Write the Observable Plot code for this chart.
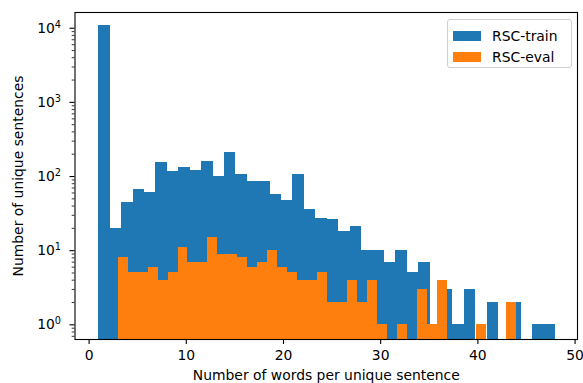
<!DOCTYPE html>
<html>
<head>
<meta charset="utf-8">
<script src="https://cdn.jsdelivr.net/npm/d3@7"></script>
<script src="https://cdn.jsdelivr.net/npm/@observablehq/plot@0.6"></script>
<style>
  html, body { margin: 0; padding: 0; background: #fff; }
  #wrap { position: relative; width: 583px; height: 383px; font-family: "DejaVu Sans", sans-serif; }
  #legendBox {
    position: absolute; left: 447px; top: 19px; width: 123px; height: 47px;
    border: 1px solid #cfcfcf; border-radius: 3px; background: rgba(255,255,255,0.8);
    box-sizing: content-box;
  }
  #legendBox .lg-swatches { margin: 0; padding: 5px 0 0 5px; }
  #legendBox .lg-swatch { display: flex; align-items: center; height: 21px; margin: 0; padding: 0; font-size: 13.9px; color: #000; font-family: "DejaVu Sans", sans-serif; }
  #legendBox .lg-swatch > svg { margin-right: 11px; }
</style>
</head>
<body>
<div id="wrap"></div>
<script>
// ---- data ----
const seriesNames = ["RSC-train", "RSC-eval"];
const seriesColors = ["#1f77b4", "#ff7f0e"];
// histogram counts, 40 bins each
const trainCounts = [10800, 20, 44, 66, 60, 153, 116, 134, 122, 161,
                     101, 213, 105, 87, 87, 57, 47, 105, 36, 27,
                     26, 18, 21, 10, 10, 7, 10, 5, 7, 0,
                     3, 1, 3, 0, 2, 0, 2, 0, 1, 1];
const evalCounts = [8, 5, 5, 6, 4, 5, 11, 7, 7, 15,
                    9, 9, 8, 6, 7, 10, 6, 5, 4, 4,
                    5, 2, 2, 4, 2, 4, 1, 0, 1, 0,
                    3, 1, 4, 0, 0, 0, 1, 0, 0, 2];
// range of words per sentence covered by each histogram
const trainRange = [1, 48];
const evalRange = [3, 44];
const xTicks = [0, 10, 20, 30, 40, 50];
const yMajorTicks = [1, 10, 100, 1000, 10000];
const xLabel = "Number of words per unique sentence";
const yLabel = "Number of unique sentences";

// ---- build tables ----
function binTable(counts, range, name) {
  const w = (range[1] - range[0]) / counts.length;
  return counts.map((c, i) => ({x1: range[0] + i * w, x2: range[0] + (i + 1) * w, count: c, series: name}))
               .filter(d => d.count > 0);
}
const trainBins = binTable(trainCounts, trainRange, seriesNames[0]);
const evalBins = binTable(evalCounts, evalRange, seriesNames[1]);

const yDomain = [0.634, 16300];
const xDomain = [-1.45, 50.25];
const yMinorTicks = [];
for (let k = -1; k <= 4; k++) for (let m = 2; m <= 9; m++) {
  const v = m * Math.pow(10, k);
  if (v >= yDomain[0] && v <= yDomain[1]) yMinorTicks.push(v);
}
const sup = {"0": "⁰", "1": "¹", "2": "²", "3": "³", "4": "⁴"};

const FS = 13.9;
const chart = Plot.plot({
  width: 583, height: 383,
  marginLeft: 74.5, marginRight: 6, marginTop: 12, marginBottom: 44,
  style: {fontFamily: "DejaVu Sans, sans-serif", fontSize: FS + "px", color: "#000", background: "#fff"},
  x: {domain: xDomain},
  y: {type: "log", domain: yDomain},
  marks: [
    Plot.rect(trainBins, {x1: "x1", x2: "x2", y1: yDomain[0], y2: "count", fill: seriesColors[0], shapeRendering: "crispEdges"}),
    Plot.rect(evalBins, {x1: "x1", x2: "x2", y1: yDomain[0], y2: "count", fill: seriesColors[1], shapeRendering: "crispEdges"}),
    Plot.axisX({ticks: xTicks, tickSize: 5, tickPadding: 5.5, tickFormat: d => String(d),
                label: xLabel, labelAnchor: "center", labelArrow: "none", labelOffset: 40,
                stroke: "#000", strokeWidth: 1.1}),
    Plot.axisY({ticks: yMajorTicks, tickSize: 5, tickPadding: 9,
                tickFormat: d => "10" + sup[String(Math.round(Math.log10(d)))],
                label: yLabel, labelAnchor: "center", labelArrow: "none", labelOffset: 62,
                stroke: "#000", strokeWidth: 1.1}),
    Plot.axisY({ticks: yMinorTicks, tickSize: 2.8, tickFormat: () => "", label: null,
                stroke: "#000", strokeWidth: 0.8}),
    Plot.frame({stroke: "#000", strokeWidth: 1.1})
  ]
});

// turn the superscript digits into raised tspans (mathtext-like)
const inv = {"⁰": "0", "¹": "1", "²": "2", "³": "3", "⁴": "4"};
chart.querySelectorAll('g[aria-label="y-axis tick label"] text').forEach(t => {
  const s = t.textContent;
  if (!s || s.length < 3) return;
  const e = inv[s.slice(-1)];
  if (e === undefined) return;
  t.textContent = "";
  const ns = "http://www.w3.org/2000/svg";
  const a = document.createElementNS(ns, "tspan"); a.textContent = "10";
  const b = document.createElementNS(ns, "tspan"); b.textContent = e;
  b.setAttribute("font-size", "70%"); b.setAttribute("dy", "-5");
  t.appendChild(a); t.appendChild(b);
});

const wrap = document.getElementById("wrap");
wrap.appendChild(chart);

const box = document.createElement("div");
box.id = "legendBox";
box.appendChild(Plot.legend({
  color: {domain: seriesNames, range: seriesColors},
  legend: "swatches", columns: 1, swatchWidth: 28, swatchHeight: 10,
  className: "lg"
}));
wrap.appendChild(box);
</script>
</body>
</html>
